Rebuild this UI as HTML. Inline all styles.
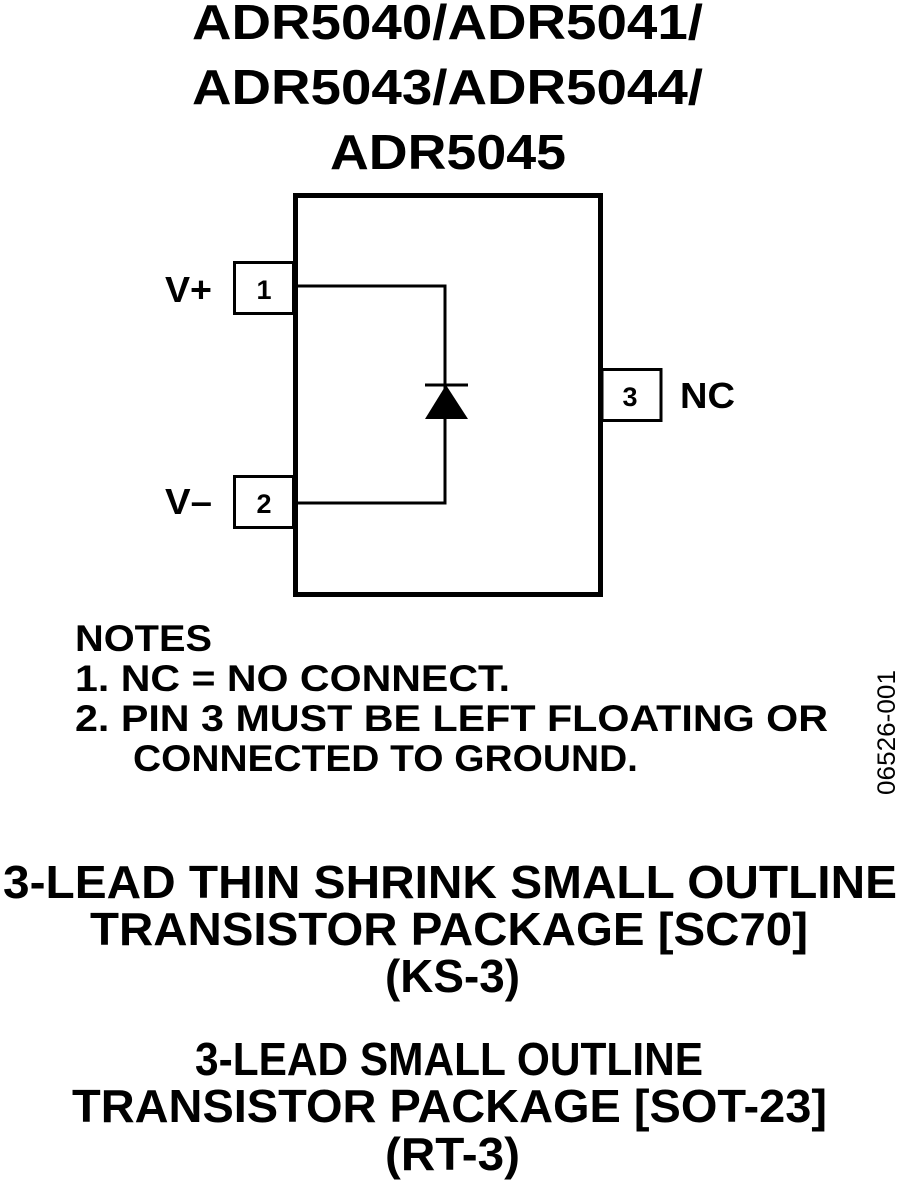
<!DOCTYPE html>
<html><head><meta charset="utf-8"><style>html,body{margin:0;padding:0;background:#fff}svg{display:block}</style></head>
<body>
<svg width="900" height="1185" viewBox="0 0 900 1185" xmlns="http://www.w3.org/2000/svg" font-family="Liberation Sans, Arial, sans-serif" font-weight="bold" fill="#000">
<g font-size="49">
<text x="192" y="39" textLength="511" lengthAdjust="spacingAndGlyphs">ADR5040/ADR5041/</text>
<text x="192" y="104" textLength="511" lengthAdjust="spacingAndGlyphs">ADR5043/ADR5044/</text>
<text x="330" y="169" textLength="236" lengthAdjust="spacingAndGlyphs">ADR5045</text>
</g>
<rect x="295.5" y="195.5" width="305" height="399" fill="none" stroke="#000" stroke-width="5"/>
<g fill="#fff" stroke="#000" stroke-width="3">
<rect x="234.5" y="262.5" width="59" height="51"/>
<rect x="234.5" y="476.5" width="59" height="51"/>
<rect x="602" y="369.5" width="59" height="51"/>
</g>
<polyline points="298,286 445,286 445,503 298,503" fill="none" stroke="#000" stroke-width="3"/>
<line x1="425" y1="385" x2="468" y2="385" stroke="#000" stroke-width="3"/>
<polygon points="446,385 425,419 468,419"/>
<g font-size="27" text-anchor="middle">
<text x="264" y="299">1</text>
<text x="264" y="513">2</text>
<text x="630" y="406">3</text>
</g>
<g font-size="36">
<text x="165" y="302" textLength="47" lengthAdjust="spacingAndGlyphs">V+</text>
<text x="165" y="514" textLength="47" lengthAdjust="spacingAndGlyphs">V–</text>
<text x="680" y="408" textLength="55" lengthAdjust="spacingAndGlyphs">NC</text>
</g>
<g font-size="37">
<text x="75" y="651" textLength="137" lengthAdjust="spacingAndGlyphs">NOTES</text>
<text x="75" y="691" textLength="435" lengthAdjust="spacingAndGlyphs">1. NC = NO CONNECT.</text>
<text x="75" y="731" textLength="753" lengthAdjust="spacingAndGlyphs">2. PIN 3 MUST BE LEFT FLOATING OR</text>
<text x="133" y="771" textLength="505" lengthAdjust="spacingAndGlyphs">CONNECTED TO GROUND.</text>
</g>
<text transform="translate(895,795) rotate(-90)" font-size="25" font-weight="normal" textLength="125" lengthAdjust="spacingAndGlyphs">06526-001</text>
<g font-size="46">
<text x="3" y="898" textLength="894" lengthAdjust="spacingAndGlyphs">3-LEAD THIN SHRINK SMALL OUTLINE</text>
<text x="90" y="945" textLength="718" lengthAdjust="spacingAndGlyphs">TRANSISTOR PACKAGE [SC70]</text>
<text x="385" y="992" textLength="135" lengthAdjust="spacingAndGlyphs">(KS-3)</text>
<text x="195" y="1075" textLength="508" lengthAdjust="spacingAndGlyphs">3-LEAD SMALL OUTLINE</text>
<text x="72" y="1122" textLength="755" lengthAdjust="spacingAndGlyphs">TRANSISTOR PACKAGE [SOT-23]</text>
<text x="385" y="1170" textLength="135" lengthAdjust="spacingAndGlyphs">(RT-3)</text>
</g>
</svg>
</body></html>
